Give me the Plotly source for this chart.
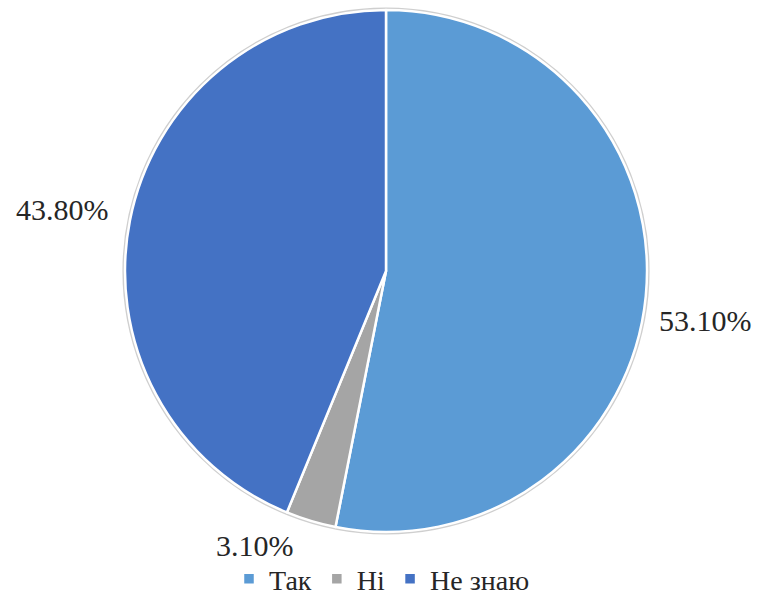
import plotly.graph_objects as go

labels = ["Так", "Ні", "Не знаю"]
values = [53.1, 3.1, 43.8]
colors = ["#5B9BD5", "#A5A5A5", "#4472C4"]
label_pos = [(705, 320), (255, 545), (62, 210)]

W, H = 764, 597
FONT = "Liberation Serif, Times New Roman, serif"
dom = dict(x=[122/W, 650/W], y=[1-532/H, 1-10/H])
fig = go.Figure()
# outer thin grey rim
fig.add_trace(go.Pie(
    values=[1], labels=[""], sort=False, showlegend=False, hoverinfo="skip",
    textinfo="none", marker=dict(colors=["white"], line=dict(color="#CFCFCF", width=5)),
    domain=dom,
))
fig.add_trace(go.Pie(
    labels=labels, values=values, sort=False, direction="clockwise", rotation=0,
    marker=dict(colors=colors, line=dict(color="white", width=2.5)),
    textinfo="none", hoverinfo="label+percent",
    domain=dom,
))
for lab, v, (px, py) in zip(labels, values, label_pos):
    fig.add_annotation(x=px/W, y=1-py/H, xref="paper", yref="paper",
                       xanchor="center", yanchor="middle",
                       text=f"{v:.2f}%", showarrow=False,
                       font=dict(family=FONT, size=30, color="#262626"))
fig.update_layout(
    width=W, height=H, margin=dict(l=0, r=0, t=0, b=0, autoexpand=False),
    paper_bgcolor="white", plot_bgcolor="white",
    font=dict(family=FONT, size=30, color="#262626"),
    legend=dict(orientation="h", x=0.5, xanchor="center", y=-0.012, yanchor="bottom",
                font=dict(family=FONT, size=28), itemwidth=30, traceorder="normal"),
)
post = "document.body.style.margin='0';"
fig.write_html("out.html", config={"displayModeBar": False}, post_script=post)
